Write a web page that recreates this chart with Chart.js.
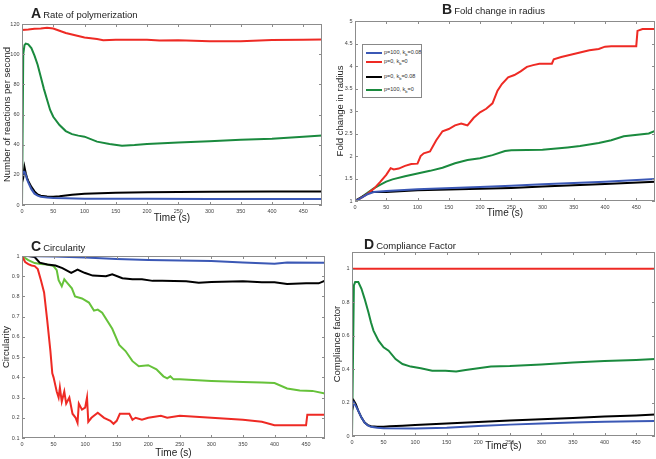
<!DOCTYPE html>
<html lang="en">
<head>
<meta charset="UTF-8">
<title>Polymerization simulation</title>
<style>
  body { margin: 0; background: #fff; font-family: "Liberation Sans", Arial, sans-serif; }
  #wrap { position: relative; width: 656px; height: 459px; overflow: hidden; }
  canvas { position: absolute; }
  .ttl { position: absolute; font-size: 9.5px; color: #222; white-space: nowrap; }
  .ttl b { font-size: 14px; margin-right: 2px; }
  #legB { position: absolute; left: 362px; top: 44px; width: 58px; height: 52px; border: 1px solid #888; background: #fff; }
  #legB .row { position: absolute; left: 3px; font-size: 5.5px; color: #333; white-space: nowrap; line-height: 6px; }
  #legB .sw { display: inline-block; width: 16px; height: 2px; vertical-align: middle; margin-right: 2px; }
  #legB sub { font-size: 4px; }
</style>
</head>
<body>
<div id="wrap">
  <canvas id="cA" width="330" height="229" style="left:0;top:0"></canvas>
  <canvas id="cB" width="326" height="229" style="left:330px;top:0"></canvas>
  <canvas id="cC" width="330" height="230" style="left:0;top:229px"></canvas>
  <canvas id="cD" width="326" height="230" style="left:330px;top:229px"></canvas>

  <div class="ttl" style="left:31px;top:5px"><b>A</b>Rate of polymerization</div>
  <div class="ttl" style="left:442px;top:1px"><b>B</b>Fold change in radius</div>
  <div class="ttl" style="left:31px;top:238px"><b>C</b>Circularity</div>
  <div class="ttl" style="left:364px;top:236px"><b>D</b>Compliance Factor</div>

  <div id="legB">
    <div class="row" style="top:4px"><span class="sw" style="background:#3b58b5"></span>p=100, k<sub>b</sub>=0.08</div>
    <div class="row" style="top:13px"><span class="sw" style="background:#ee2a24"></span>p=0, k<sub>b</sub>=0</div>
    <div class="row" style="top:28px"><span class="sw" style="background:#000"></span>p=0, k<sub>b</sub>=0.08</div>
    <div class="row" style="top:41px"><span class="sw" style="background:#1a8a3e"></span>p=100, k<sub>b</sub>=0</div>
  </div>
</div>

<script src="https://cdn.jsdelivr.net/npm/chart.js"></script>
<script>
// A: rate of polymerization
const aRedT = [0, 10, 20, 30, 40, 50, 60, 70, 80, 90, 100, 120, 130, 150, 180, 200, 220, 250, 300, 350, 400, 450, 480];
const aRed = [116, 116.3, 116.8, 117, 117.5, 117, 115.5, 114, 113, 112, 111, 110, 109.3, 109.5, 109.5, 109.5, 109, 109.2, 108.5, 108.5, 109.4, 109.5, 109.8];
const aGreenT = [0, 2, 4, 6, 10, 15, 20, 25, 30, 35, 40, 45, 50, 60, 70, 80, 90, 100, 120, 140, 160, 180, 200, 250, 300, 350, 400, 450, 480];
const aGreen = [0, 100, 106, 107, 106.5, 104, 99, 93, 85, 77, 70, 63, 58.5, 53, 49, 47, 46, 45.3, 42, 40.5, 39.3, 39.8, 40.5, 41.5, 42.3, 43.3, 44, 45.3, 46];
const aBlackT = [0, 2, 4, 6, 8, 10, 15, 20, 25, 30, 40, 50, 60, 80, 100, 150, 200, 300, 400, 480];
const aBlack = [15, 18, 25, 21, 18, 16, 12, 9, 7, 6.2, 5.6, 5.5, 5.8, 6.8, 7.5, 8.2, 8.5, 8.8, 9, 9];
const aBlueT = [0, 2, 4, 6, 8, 10, 15, 20, 25, 30, 40, 50, 70, 100, 200, 300, 400, 480];
const aBlue = [18, 22, 22, 20, 17, 15, 10.5, 7.5, 6.2, 5.5, 5, 4.7, 4.4, 4.2, 4.1, 4, 4, 4];

// B: fold change in radius
const bRedT = [0, 10, 20, 30, 40, 50, 57, 62, 70, 80, 90, 100, 105, 110, 120, 130, 140, 150, 160, 170, 175, 180, 190, 200, 210, 220, 228, 235, 245, 255, 265, 275, 285, 295, 315, 318, 330, 345, 360, 375, 390, 400, 410, 450, 452, 460, 480];
const bRed = [1, 1.07, 1.16, 1.27, 1.42, 1.58, 1.73, 1.7, 1.72, 1.78, 1.82, 1.83, 2.0, 2.06, 2.1, 2.35, 2.55, 2.6, 2.68, 2.72, 2.7, 2.68, 2.85, 2.97, 3.05, 3.17, 3.45, 3.6, 3.75, 3.8, 3.88, 3.98, 4.02, 4.05, 4.05, 4.15, 4.2, 4.25, 4.3, 4.35, 4.38, 4.43, 4.44, 4.44, 4.78, 4.82, 4.82];
const bGreenT = [0, 10, 20, 30, 40, 50, 60, 80, 100, 120, 140, 160, 180, 200, 220, 240, 250, 300, 340, 360, 390, 410, 430, 470, 480];
const bGreen = [1, 1.08, 1.18, 1.28, 1.36, 1.43, 1.48, 1.55, 1.61, 1.67, 1.74, 1.84, 1.91, 1.95, 2.02, 2.11, 2.13, 2.14, 2.19, 2.22, 2.29, 2.35, 2.44, 2.5, 2.56];
const bBlueT = [0, 10, 20, 30, 50, 100, 200, 250, 300, 400, 480];
const bBlue = [1, 1.07, 1.15, 1.2, 1.22, 1.26, 1.31, 1.34, 1.37, 1.43, 1.49];
const bBlackT = [0, 10, 20, 25, 35, 50, 100, 200, 250, 300, 400, 480];
const bBlack = [1, 1.08, 1.16, 1.2, 1.2, 1.2, 1.24, 1.27, 1.29, 1.32, 1.38, 1.43];

// C: circularity
const cRedT = [0, 5, 10, 15, 20, 25, 30, 35, 40, 45, 48, 50, 55, 58, 60, 63, 67, 70, 75, 80, 85, 88, 90, 95, 100, 103, 105, 110, 120, 130, 140, 145, 150, 155, 160, 170, 175, 180, 190, 200, 220, 230, 250, 300, 350, 380, 400, 450, 452, 480];
const cRed = [1, 0.97, 0.96, 0.953, 0.95, 0.935, 0.88, 0.82, 0.68, 0.53, 0.42, 0.4, 0.33, 0.3, 0.35, 0.28, 0.33, 0.27, 0.3, 0.22, 0.2, 0.175, 0.27, 0.24, 0.25, 0.3, 0.18, 0.2, 0.225, 0.2, 0.185, 0.17, 0.185, 0.22, 0.22, 0.22, 0.19, 0.2, 0.19, 0.2, 0.21, 0.2, 0.21, 0.2, 0.19, 0.18, 0.163, 0.163, 0.215, 0.215];
const cGreenT = [0, 10, 20, 30, 40, 50, 55, 58, 63, 67, 71, 79, 84, 95, 106, 114, 120, 127, 143, 154, 164, 175, 185, 200, 213, 224, 230, 235, 240, 250, 300, 350, 380, 400, 420, 440, 460, 480];
const cGreen = [1, 0.98, 0.965, 0.96, 0.958, 0.95, 0.93, 0.88, 0.85, 0.885, 0.87, 0.84, 0.8, 0.79, 0.77, 0.73, 0.735, 0.72, 0.64, 0.56, 0.53, 0.48, 0.455, 0.46, 0.44, 0.405, 0.395, 0.405, 0.39, 0.39, 0.382, 0.377, 0.374, 0.372, 0.345, 0.335, 0.333, 0.32];
const cBlackT = [0, 10, 20, 28, 40, 53, 64, 78, 88, 99, 112, 133, 143, 159, 175, 190, 207, 222, 260, 280, 300, 350, 380, 400, 420, 450, 470, 480];
const cBlack = [1, 1, 0.995, 0.967, 0.958, 0.953, 0.94, 0.917, 0.933, 0.917, 0.903, 0.9, 0.91, 0.89, 0.885, 0.885, 0.877, 0.878, 0.875, 0.868, 0.872, 0.875, 0.87, 0.87, 0.862, 0.865, 0.865, 0.878];
const cBlueT = [0, 50, 100, 150, 200, 250, 300, 350, 400, 420, 480];
const cBlue = [1, 0.998, 0.993, 0.985, 0.98, 0.978, 0.975, 0.968, 0.962, 0.968, 0.967];

// D: compliance factor
const dRedT = [0, 480];
const dRed = [1, 1];
const dGreenT = [0, 3, 5, 10, 15, 20, 26, 30, 34, 42, 50, 58, 69, 80, 93, 109, 127, 148, 165, 180, 200, 220, 250, 300, 350, 400, 450, 480];
const dGreen = [0, 0.9, 0.92, 0.92, 0.88, 0.82, 0.74, 0.68, 0.63, 0.57, 0.53, 0.51, 0.46, 0.43, 0.415, 0.405, 0.39, 0.39, 0.385, 0.395, 0.405, 0.415, 0.418, 0.428, 0.44, 0.448, 0.455, 0.46];
const dBlackT = [0, 3, 6, 10, 15, 20, 25, 30, 40, 50, 60, 80, 100, 150, 200, 250, 300, 350, 400, 450, 480];
const dBlack = [0.15, 0.21, 0.19, 0.15, 0.11, 0.08, 0.065, 0.058, 0.055, 0.055, 0.058, 0.062, 0.066, 0.075, 0.084, 0.092, 0.1, 0.108, 0.116, 0.123, 0.128];
const dBlueT = [0, 3, 6, 10, 15, 20, 25, 30, 40, 50, 100, 150, 200, 250, 300, 350, 400, 450, 480];
const dBlue = [0.17, 0.2, 0.18, 0.15, 0.11, 0.08, 0.063, 0.055, 0.05, 0.046, 0.045, 0.05, 0.06, 0.068, 0.074, 0.08, 0.085, 0.088, 0.09];

const RED = '#ee2a24', GREEN = '#1a8a3e', LGREEN = '#66c23a', BLUE = '#3b58b5', BLACK = '#000000';
const FONT = '"Liberation Sans", Arial, sans-serif';

function pts(t, v) {
  return t.map((x, i) => ({ x: x, y: v[i] }));
}

// MATLAB style box with inward tick marks
const framePlugin = {
  id: 'frame',
  afterDraw(chart) {
    const { ctx, chartArea: a, scales } = chart;
    ctx.save();
    ctx.strokeStyle = '#8c8c8c';
    ctx.lineWidth = 1;
    ctx.strokeRect(a.left + 0.5, a.top + 0.5, a.right - a.left - 1, a.bottom - a.top - 1);
    ctx.beginPath();
    scales.x.ticks.forEach(t => {
      const px = Math.round(scales.x.getPixelForValue(t.value)) + 0.5;
      ctx.moveTo(px, a.bottom); ctx.lineTo(px, a.bottom - 3);
      ctx.moveTo(px, a.top); ctx.lineTo(px, a.top + 3);
    });
    scales.y.ticks.forEach(t => {
      const py = Math.round(scales.y.getPixelForValue(t.value)) + 0.5;
      ctx.moveTo(a.left, py); ctx.lineTo(a.left + 3, py);
      ctx.moveTo(a.right, py); ctx.lineTo(a.right - 3, py);
    });
    ctx.stroke();
    ctx.restore();
  }
};

const fmt = v => String(Number(v.toFixed(2)));

function makeChart(id, series, cfg) {
  const datasets = series.map(s => ({
    data: pts(s.t, s.v),
    borderColor: s.color,
    borderWidth: 2,
    pointRadius: 0,
    tension: 0,
    fill: false
  }));
  new Chart(document.getElementById(id), {
    type: 'line',
    data: { datasets: datasets },
    plugins: [framePlugin],
    options: {
      responsive: false,
      animation: false,
      layout: { padding: { top: cfg.top, right: cfg.right, left: 0, bottom: 0 } },
      plugins: { legend: { display: false }, tooltip: { enabled: false } },
      scales: {
        x: {
          type: 'linear', min: 0, max: 480,
          grid: { display: false, drawTicks: false }, border: { display: false },
          ticks: { stepSize: 50, padding: 3, autoSkip: false, maxRotation: 0, color: '#444', font: { family: FONT, size: 5.5 }, callback: fmt },
          afterBuildTicks: s => { s.ticks = s.ticks.filter(t => t.value % 50 === 0); },
          afterFit: s => { s.height = cfg.xh; },
          title: { display: true, text: 'Time (s)', color: '#222', font: { family: FONT, size: 10 }, padding: { top: cfg.xtp, bottom: cfg.xtp } }
        },
        y: {
          type: 'linear', min: cfg.ymin, max: cfg.ymax,
          grid: { display: false, drawTicks: false }, border: { display: false },
          ticks: { stepSize: cfg.step, padding: 2.5, autoSkip: false, color: '#444', font: { family: FONT, size: 5.5 }, callback: fmt },
          afterBuildTicks: s => { s.ticks = s.ticks.filter(t => t.value <= cfg.ylast + 1e-9); },
          afterFit: s => { s.width = cfg.yw; },
          title: { display: true, text: cfg.ytitle, color: '#222', font: { family: FONT, size: 9.5 }, padding: { top: cfg.ytp, bottom: cfg.ytp } }
        }
      }
    }
  });
}

makeChart('cA', [
  { t: aBlueT, v: aBlue, color: BLUE },
  { t: aRedT, v: aRed, color: RED },
  { t: aBlackT, v: aBlack, color: BLACK },
  { t: aGreenT, v: aGreen, color: GREEN }
], { top: 24, right: 8, xh: 24, yw: 22, ymin: 0, ymax: 120, step: 20, ylast: 120, xtp: 5, ytp: 1.5, ytitle: 'Number of reactions per second' });

makeChart('cB', [
  { t: bBlueT, v: bBlue, color: BLUE },
  { t: bRedT, v: bRed, color: RED },
  { t: bBlackT, v: bBlack, color: BLACK },
  { t: bGreenT, v: bGreen, color: GREEN }
], { top: 21, right: 1, xh: 28, yw: 25, ymin: 1, ymax: 5, step: 0.5, ylast: 5, xtp: 10, ytp: 4.5, ytitle: 'Fold change in radius' });

makeChart('cC', [
  { t: cBlueT, v: cBlue, color: BLUE },
  { t: cRedT, v: cRed, color: RED },
  { t: cBlackT, v: cBlack, color: BLACK },
  { t: cGreenT, v: cGreen, color: LGREEN }
], { top: 27, right: 5, xh: 21, yw: 22, ymin: 0.1, ymax: 1, step: 0.1, ylast: 1, xtp: 0, ytp: 0.5, ytitle: 'Circularity' });

makeChart('cD', [
  { t: dBlueT, v: dBlue, color: BLUE },
  { t: dRedT, v: dRed, color: RED },
  { t: dBlackT, v: dBlack, color: BLACK },
  { t: dGreenT, v: dGreen, color: GREEN }
], { top: 23, right: 1, xh: 23, yw: 22, ymin: 0, ymax: 1.1, step: 0.2, ylast: 1, xtp: 7, ytp: 2, ytitle: 'Compliance factor' });
</script>
</body>
</html>
